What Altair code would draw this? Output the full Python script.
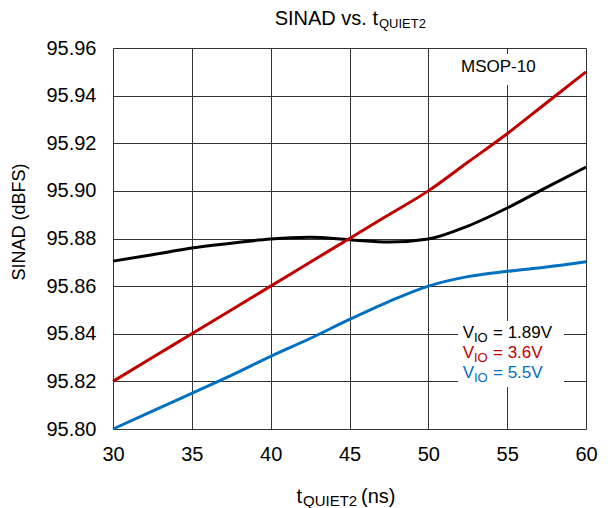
import altair as alt
import pandas as pd

# ---- data ----
t_ns = [30, 32.5, 35, 37.5, 40, 42.5, 45, 47.5, 50, 52.5, 55, 57.5, 60]
sinad_189 = [95.8705, 95.8732, 95.8760, 95.8780, 95.8798, 95.8805, 95.8795, 95.8785,
             95.8798, 95.8852, 95.8928, 95.9015, 95.9100]
sinad_36 = [95.820, 95.830, 95.840, 95.850, 95.860, 95.870, 95.880, 95.890,
            95.900, 95.912, 95.924, 95.937, 95.950]
sinad_55 = [95.8000, 95.8075, 95.8150, 95.8225, 95.8305, 95.8380, 95.8460, 95.8535,
            95.8600, 95.8640, 95.8662, 95.8680, 95.8702]
series_names = ["1.89V", "3.6V", "5.5V"]
series_colors = ["#000000", "#C00000", "#0070C0"]
x_ticks = [30, 35, 40, 45, 50, 55, 60]
y_ticks = [95.80, 95.82, 95.84, 95.86, 95.88, 95.90, 95.92, 95.94, 95.96]

rows = []
for name, vals in zip(series_names, [sinad_189, sinad_36, sinad_55]):
    for t, v in zip(t_ns, vals):
        rows.append({"t": t, "sinad": v, "vio": name})
df = pd.DataFrame(rows)

FONT = "Liberation Sans"
W, H = 473, 381

lines = alt.Chart(df).mark_line(strokeWidth=3, interpolate="monotone").encode(
    x=alt.X("t:Q", scale=alt.Scale(domain=[30, 60], nice=False, zero=False),
            axis=alt.Axis(values=x_ticks, title=None, labelFontSize=20, labelPadding=15,
                          labelFlush=False, labelBound=False,
                          ticks=False, domain=False, grid=True, gridColor="#333333",
                          gridWidth=1, labelColor="black", labelFont=FONT)),
    y=alt.Y("sinad:Q", scale=alt.Scale(domain=[95.80, 95.96], nice=False, zero=False),
            axis=alt.Axis(values=y_ticks, format=".2f", title=None, labelFontSize=20,
                          labelPadding=17, ticks=False, domain=False, grid=True,
                          labelFlush=False, labelBound=False,
                          gridColor="#333333", gridWidth=1, labelColor="black",
                          labelFont=FONT)),
    color=alt.Color("vio:N", scale=alt.Scale(domain=series_names, range=series_colors),
                    legend=None),
)

one = pd.DataFrame({"k": [0]})


def txt(s, x, y, size, color="black", align="left", baseline="alphabetic", angle=0):
    kw = dict(fontSize=size, font=FONT, color=color, align=align, baseline=baseline)
    if angle:
        kw["angle"] = angle
    return alt.Chart(one).mark_text(**kw).encode(
        x=alt.value(x), y=alt.value(y), text=alt.value(s))


def box(x1, x2, y1, y2):
    return alt.Chart(one).mark_rect(color="white").encode(
        x=alt.value(x1), x2=alt.value(x2), y=alt.value(y1), y2=alt.value(y2))


layers = [
    lines,
    box(342, 452, 6, 37),
    box(345, 451, 273, 339),
    txt("MSOP-10", 348, 24, 17),
    # legend
    txt("V", 361, 290, 17, series_colors[0], align="right"),
    txt("IO", 361, 294, 13, series_colors[0]),
    txt("= " + series_names[0], 380, 290, 17, series_colors[0]),
    txt("V", 361, 310, 17, series_colors[1], align="right"),
    txt("IO", 361, 314, 13, series_colors[1]),
    txt("= " + series_names[1], 380, 310, 17, series_colors[1]),
    txt("V", 361, 330, 17, series_colors[2], align="right"),
    txt("IO", 361, 334, 13, series_colors[2]),
    txt("= " + series_names[2], 380, 330, 17, series_colors[2]),
    # title
    txt("SINAD vs. t", 265, -23, 20, align="right"),
    txt("QUIET2", 266, -20, 13),
    # x title
    txt("t", 189, 455, 20, align="right"),
    txt("QUIET2", 190, 458, 15),
    txt("(ns)", 248, 455, 20),
    # y title
    txt("SINAD (dBFS)", -93, 174, 18, align="center", baseline="middle", angle=270),
]

chart = alt.layer(*layers).properties(
    width=W, height=H,
    autosize=alt.AutoSizeParams(type="none"),
    padding={"left": 105, "top": 40, "right": 14, "bottom": 79},
).configure_view(stroke="black", strokeWidth=2.5).configure(font=FONT)

chart.save("out.html", embed_options={"renderer": "svg", "actions": False})
